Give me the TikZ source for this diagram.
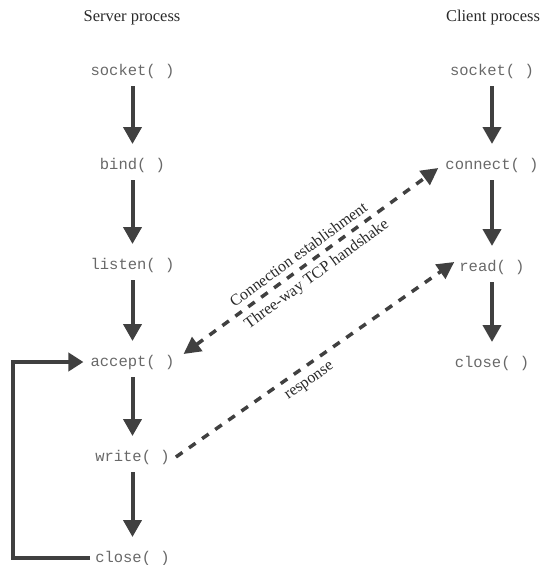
\documentclass[tikz,border=0pt]{standalone}
\usepackage{fontspec}
\setmainfont{Liberation Serif}
\newfontfamily\codefont{Liberation Mono}
\usetikzlibrary{arrows.meta}
\definecolor{ink}{HTML}{404040}
\definecolor{codegray}{HTML}{686868}
\definecolor{titleink}{HTML}{2A2A2A}
\begin{document}
\begin{tikzpicture}[x=1pt,y=-1pt,
  call/.style={font=\fontsize{15.5}{18}\selectfont\codefont, text=codegray, inner sep=0pt},
  heading/.style={font=\fontsize{16.5}{20}\selectfont, text=titleink, inner sep=0pt},
  flow/.style={draw=ink, line width=4pt, -{Triangle[length=17pt,width=18pt]}},
  loopline/.style={draw=ink, line width=4pt, -{Triangle[length=15pt,width=18pt]}},
  msg/.style={draw=ink, line width=3.5pt, dash pattern=on 8pt off 8pt},
  headtip/.tip={Triangle[length=17pt,width=17pt]},
  msglabel/.style={font=\fontsize{16}{19}\selectfont, text=titleink, sloped, inner sep=5.5pt}]

\useasboundingbox (0,0) rectangle (540,565);

% column headings
\node[heading] (srvhead) at (132,18) {Server process};
\node[heading] (clihead) at (493,18) {Client process};

% server calls
\node[call] (ssocket) at (132.5,71)  {socket( )};
\node[call] (sbind)   at (132.5,165) {bind( )};
\node[call] (slisten) at (132.5,265) {listen( )};
\node[call] (saccept) at (132.5,362) {accept( )};
\node[call] (swrite)  at (132.5,457) {write( )};
\node[call] (sclose)  at (132.5,558) {close( )};

% client calls
\node[call] (csocket)  at (492,71)  {socket( )};
\node[call] (cconnect) at (492,165) {connect( )};
\node[call] (cread)    at (492,267) {read( )};
\node[call] (cclose)   at (492,363) {close( )};

% server sequence
\foreach \a/\b in {ssocket/sbind, sbind/slisten, slisten/saccept, saccept/swrite, swrite/sclose}
  \draw[flow] ([yshift=-15pt]\a.center) -- ([yshift=21pt]\b.center);

% client sequence
\foreach \a/\b in {csocket/cconnect, cconnect/cread, cread/cclose}
  \draw[flow] ([yshift=-15pt]\a.center) -- ([yshift=21pt]\b.center);

% loop back from close() to accept()
\coordinate (loopx) at (13,0);
\draw[loopline] ([xshift=-5pt]sclose.west) -| (loopx |- saccept.west) -- ([xshift=-7pt]saccept.west);

% connection establishment
\draw[msg, headtip-headtip] ([xshift=9pt,yshift=8pt]saccept.east) -- ([xshift=-7pt,yshift=-3pt]cconnect.west)
  node[msglabel, pos=0.48, above] {Connection establishment}
  node[msglabel, pos=0.49, below] {Three-way TCP handshake};

% response
\draw[msg, -headtip] ([xshift=6pt]swrite.east) -- ([xshift=-5pt,yshift=5pt]cread.west)
  node[msglabel, pos=0.45, below, yshift=-3pt] {response};

\end{tikzpicture}
\end{document}
